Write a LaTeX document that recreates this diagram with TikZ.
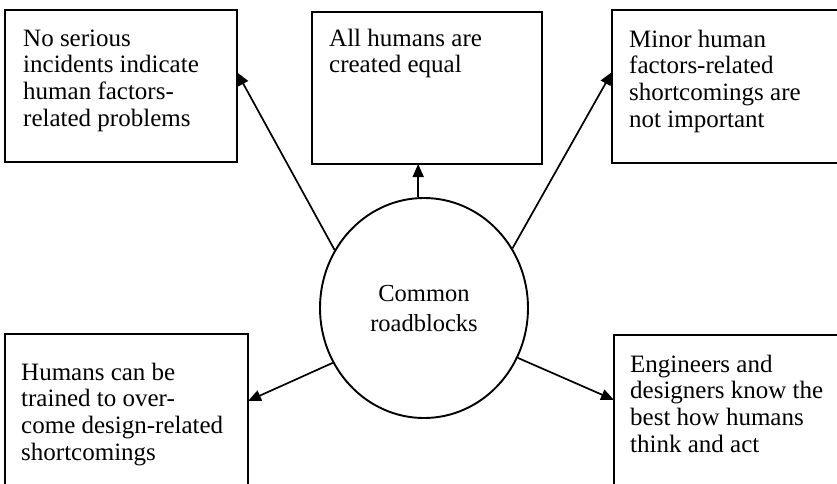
\documentclass[tikz,border=0pt]{standalone}
\usepackage{fontspec}
\setmainfont{Liberation Serif}
\usetikzlibrary{arrows.meta,shapes.geometric,calc}
\begin{document}
\begin{tikzpicture}[x=1pt,y=-1pt,
  frame/.style={draw,line width=1.9pt,rectangle,anchor=north west,inner sep=0pt,outer sep=0pt},
  % base anchor of a multi-line node sits on its last line
  blurb/.style={anchor=base west,align=left,inner sep=0pt,font=\fontsize{25}{26.7}\selectfont},
  hub/.style={draw,line width=1.9pt,ellipse,minimum width=208pt,minimum height=220pt,inner sep=0pt,align=center,font=\fontsize{24.5}{30}\selectfont},
  link/.style={line width=1.7pt,-{Triangle[length=13pt,width=11pt]}}]
\clip (0,0) rectangle (837,483);
\fill[white] (0,0) rectangle (837,483);

% boxes
\node[frame,minimum width=232pt,minimum height=152pt] (b1) at (5,10) {};
\node[frame,minimum width=230pt,minimum height=152pt] (b2) at (312,12) {};
\node[frame,minimum width=240pt,minimum height=153pt] (b3) at (612,10) {};
\node[frame,minimum width=243pt,minimum height=170pt] (b4) at (5,334) {};
\node[frame,minimum width=240pt,minimum height=170pt] (b5) at (614,335) {};

% box texts
\node[blurb] (t1) at (23,126.1) {No serious\\incidents indicate\\human factors-\\related problems};
\node[blurb] (t2) at (329,72.7) {All humans are\\created equal};
\node[blurb] (t3) at (629,127.1) {Minor human\\factors-related\\shortcomings are\\not important};
\node[blurb] (t4) at (21,460.1) {Humans can be\\trained to over-\\come design-related\\shortcomings};
\node[blurb] (t5) at (630,452.1) {Engineers and\\designers know the\\best how humans\\think and act};

% central hub
\node[hub] (c) at (424,308) {Common\\roadblocks};

% connectors
\draw[link] (c.147) -- ($(b1.north east)!0.41!(b1.south east)$);
\draw[link] (c.93) -- (c.93 |- b2.south);
\draw[link] (c.34) -- ($(b3.north west)!0.405!(b3.south west)$);
\draw[link] (c.211) -- ($(b4.north east)!0.394!(b4.south east)$);
\draw[link] (c.332) -- ($(b5.north west)!0.382!(b5.south west)$);
\end{tikzpicture}
\end{document}
